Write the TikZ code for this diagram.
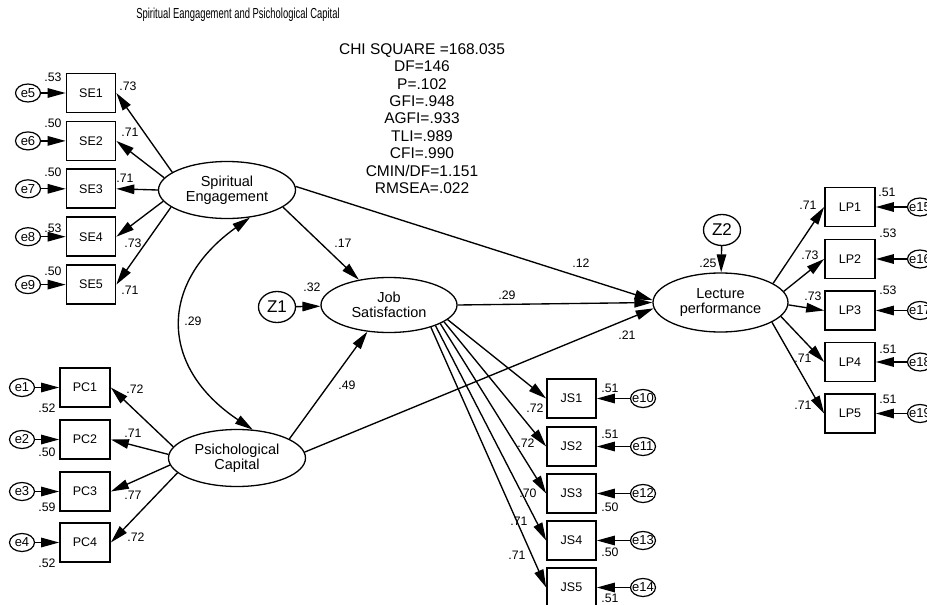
\documentclass[tikz,border=0pt]{standalone}
\usepackage{fontspec}
\setmainfont{Liberation Sans}
\usetikzlibrary{arrows.meta,shapes.geometric}
\begin{document}
\begin{tikzpicture}[x=1pt,y=-1pt,
  obs/.style={draw, rectangle, line width=1.7pt, minimum width=49pt, minimum height=39pt, inner sep=0pt, font=\fontsize{12.5}{14}\selectfont},
  err/.style={draw, ellipse, line width=1.2pt, minimum width=25pt, minimum height=18pt, inner sep=0pt, font=\fontsize{13}{14}\selectfont},
  lat/.style={draw, ellipse, line width=1.3pt, minimum width=137pt, minimum height=57pt, inner sep=0pt, align=center, font=\fontsize{14.5}{15.5}\selectfont},
  dis/.style={draw, ellipse, line width=1.3pt, minimum width=37pt, minimum height=31pt, inner sep=0pt, font=\fontsize{17}{18}\selectfont},
  coef/.style={inner sep=0pt, font=\fontsize{12.3}{13}\selectfont},
  arr/.style={line width=1.35pt, -{Triangle[length=18pt,width=9.5pt]}},
  arrtwo/.style={line width=1.35pt, {Triangle[length=18pt,width=9.5pt]}-{Triangle[length=18pt,width=9.5pt]}},
]
\useasboundingbox (0,0) rectangle (927,605);

% title and fit statistics
\node[inner sep=0pt] (title) at (238,15) {\scalebox{0.65}[1]{\fontsize{14.5}{16}\selectfont Spiritual Eangagement and Psichological Capital}};
\node[inner sep=0pt, align=center, font=\fontsize{15.5}{17.4}\selectfont] (stats) at (422,118.5)
  {CHI SQUARE =168.035\\DF=146\\P=.102\\GFI=.948\\AGFI=.933\\TLI=.989\\CFI=.990\\CMIN/DF=1.151\\RMSEA=.022};

% latent variables
\node[lat] (SE) at (227,190) {Spiritual\\Engagement};
\node[lat] (PC) at (237,458) {Psichological\\Capital};
\node[lat, minimum width=136pt, minimum height=55pt] (JS) at (389,305) {Job\\Satisfaction};
\node[lat, minimum width=135pt, minimum height=59pt] (LP) at (720.5,302.5) {Lecture\\performance};
\node[dis] (Z1) at (277,307) {Z1};
\node[dis] (Z2) at (722,230) {Z2};

% SE indicators
\node[obs] (se1) at (91,93) {SE1};
\node[obs] (se2) at (91,140.9) {SE2};
\node[obs] (se3) at (91,188.8) {SE3};
\node[obs] (se4) at (91,236.7) {SE4};
\node[obs] (se5) at (91,284.6) {SE5};
\node[err] (e5) at (28,93) {\makebox[0pt]{e5}};
\node[err] (e6) at (28,140.9) {\makebox[0pt]{e6}};
\node[err] (e7) at (28,188.8) {\makebox[0pt]{e7}};
\node[err] (e8) at (28,236.7) {\makebox[0pt]{e8}};
\node[err] (e9) at (28,284.6) {\makebox[0pt]{e9}};

% PC indicators
\node[obs, minimum width=50pt] (pc1) at (85,387.5) {PC1};
\node[obs, minimum width=50pt] (pc2) at (85,439.5) {PC2};
\node[obs, minimum width=50pt] (pc3) at (85,491.5) {PC3};
\node[obs, minimum width=50pt] (pc4) at (85,542.5) {PC4};
\node[err] (e1) at (22,387.5) {\makebox[0pt]{e1}};
\node[err] (e2) at (22,439.5) {\makebox[0pt]{e2}};
\node[err] (e3) at (22,491.5) {\makebox[0pt]{e3}};
\node[err] (e4) at (22,542.5) {\makebox[0pt]{e4}};

% JS indicators
\node[obs] (js1) at (571.5,398.5) {JS1};
\node[obs] (js2) at (571.5,446.5) {JS2};
\node[obs] (js3) at (571.5,493.5) {JS3};
\node[obs] (js4) at (571.5,540.5) {JS4};
\node[obs] (js5) at (571.5,587.5) {JS5};
\node[err] (e10) at (643,398.5) {\makebox[0pt]{e10}};
\node[err] (e11) at (643,446.5) {\makebox[0pt]{e11}};
\node[err] (e12) at (643,493.5) {\makebox[0pt]{e12}};
\node[err] (e13) at (643,540.5) {\makebox[0pt]{e13}};
\node[err] (e14) at (643,587.5) {\makebox[0pt]{e14}};

% LP indicators
\node[obs, minimum width=50pt] (lp1) at (850,207) {LP1};
\node[obs, minimum width=50pt] (lp2) at (850,259) {LP2};
\node[obs, minimum width=50pt] (lp3) at (850,310.5) {LP3};
\node[obs, minimum width=50pt] (lp4) at (850,362) {LP4};
\node[obs, minimum width=50pt] (lp5) at (850,413.5) {LP5};
\node[err] (e15) at (920,207) {\makebox[0pt]{e15}};
\node[err] (e16) at (920,259) {\makebox[0pt]{e16}};
\node[err] (e17) at (920,310.5) {\makebox[0pt]{e17}};
\node[err] (e18) at (920,362) {\makebox[0pt]{e18}};
\node[err] (e19) at (920,413.5) {\makebox[0pt]{e19}};

% error arrows
\foreach \e/\b in {e5/se1,e6/se2,e7/se3,e8/se4,e9/se5,e1/pc1,e2/pc2,e3/pc3,e4/pc4,
                   e10/js1,e11/js2,e12/js3,e13/js4,e14/js5,e15/lp1,e16/lp2,e17/lp3,e18/lp4,e19/lp5}
  \draw[arr] (\e) -- (\b);

% loadings
\foreach \a/\b in {162.5/se1,169/se2,180/se3,190.5/se4,197.5/se5}
  \draw[arr] (SE.\a) -- (\b.east);
\foreach \a/\b in {170/pc1,177.5/pc2,186/pc3,194/pc4}
  \draw[arr] (PC.\a) -- (\b.east);
\foreach \a/\b in {-14/js1,-17/js2,-20/js3,-24/js4,-28/js5}
  \draw[arr] (JS.\a) -- (\b.west);
\foreach \a/\b in {20/lp1,10.6/lp2,-2/lp3,-13/lp4,-21/lp5}
  \draw[arr] (LP.\a) -- (\b.west);

% structural paths
\draw[arr] (Z1) -- (JS);
\draw[arr] (Z2) -- (LP);
\draw[arr] (SE.-17) -- (JS.140);
\draw[arr] (SE.3.5) -- (LP.178.5);
\draw[arr] (JS.east) -- (LP.west);
\draw[arr] (PC.5) -- (LP.185);
\draw[arr] (PC.20) -- (JS.231);
\draw[arrtwo] (SE.-50) .. controls (158.5,283) and (159,367) .. (PC.61);

% coefficient labels
\foreach \x/\y/\t in {53/77/.53,128/86/.73,53/123/.50,130/132/.71,53/172/.50,125/178/.71,
                      53/228/.53,133/243/.73,53/271/.50,130/290/.71,
                      47/408/.52,135/389/.72,47/452/.50,133/433/.71,47/507/.59,133/495/.77,47/563/.52,136/537/.72,
                      610/388/.51,535/408/.72,610/434/.51,526/443/.72,610/507/.50,528/493/.70,
                      610/552/.50,519/521/.71,610/598/.51,517/555/.71,
                      808/205/.71,887/192/.51,810/255/.73,888/233/.53,813/296/.73,888/290/.53,
                      803/358/.71,888/349/.51,803/405/.71,888/399/.51,
                      343/243/.17,581/263/.12,507/295/.29,627/335/.21,347/385/.49,193/321/.29,312/287/.32,708/263/.25}
  \node[coef] at (\x,\y) {\t};
\end{tikzpicture}
\end{document}
